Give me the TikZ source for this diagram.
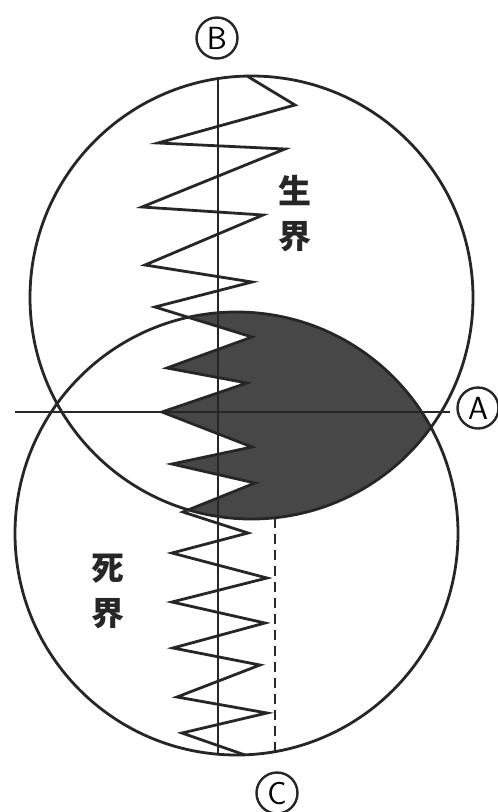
\documentclass[tikz,border=0pt]{standalone}
\usepackage{fontspec}
\newfontfamily\cjk{Noto Sans CJK SC}
\usetikzlibrary{positioning}

\begin{document}
\begin{tikzpicture}[%
  x=1pt, y=-1pt,%
  ring/.style={draw=black!85, line width=2.8pt},%
  axis/.style={draw=black!85, line width=2.8pt},%
  zig/.style={draw=black!85, line width=2.8pt, line join=miter},%
  shade/.style={fill=black!72},%
  tag/.style={circle, draw=black!85, line width=2.4pt, minimum size=41pt, inner sep=0pt, font=\sffamily\fontsize{32}{32}\selectfont},%
  realm/.style={font=\cjk\bfseries\fontsize{33}{45}\selectfont, align=center, text=black!85}%
]
  \useasboundingbox (0,0) rectangle (498,812);
  \coordinate (up) at (251.5,297.5);
  \coordinate (low) at (236.5,533.5);

  % dark part between the circles
  \begin{scope}
    \clip (up) circle [radius=221.5];
    \clip (low) circle [radius=221.5];
    \fill[shade] (155,307) -- (252,337) -- (167,368) -- (247,383) -- (162,412) -- (252,447) -- (172,464) -- (255,483) -- (183,512) -- (248,533) -- (520,600) -- (520,250) -- cycle;
  \end{scope}

  \draw[ring] (up) circle [radius=221.5];
  \draw[ring] (low) circle [radius=221.5];

  % axes
  \coordinate (top) at (218,78.6);
  \coordinate (bot) at (218,754);
  \coordinate (west) at (15,412);
  \coordinate (east) at (450,412);
  \coordinate (dtop) at (275,518);
  \coordinate (dbot) at (275,752);
  \draw[axis] (top) -- (bot);
  \draw[axis] (west) -- (east);
  \draw[axis, dash pattern=on 10pt off 6pt] (dtop) -- (dbot);

  % zigzag
  \draw[zig] plot coordinates {(247,76) (295,105) (158,143) (285,149) (142,207) (263,215) (145,265) (252,282) (155,307) (252,337) (167,368) (247,383) (162,412) (252,447) (172,464) (255,483) (183,512) (248,533) (172,553) (267,578) (172,602) (265,623) (173,648) (260,665) (177,697) (267,713) (182,733) (245,755)};

  \node[tag] (B) at (217,38) {B};
  \node[tag] (A) at (478,408) {A};
  \node[tag] (C) at (277,793) {C};
  \node[realm] (sheng) at (295,214) {生\\界};
  \node[realm] (si) at (108,591) {死\\界};
\end{tikzpicture}
\end{document}
